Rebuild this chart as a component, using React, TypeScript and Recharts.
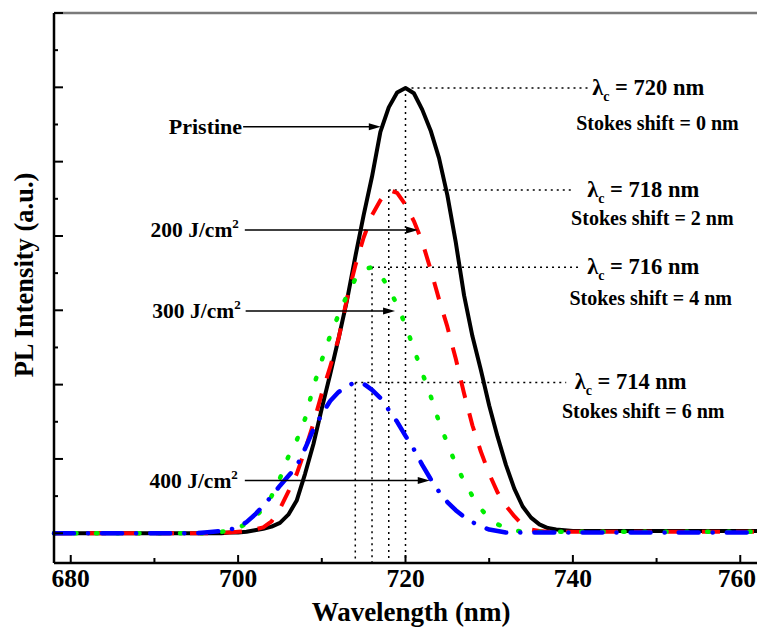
import React from 'react';
import { LineChart, Line, XAxis, YAxis, ReferenceLine, ReferenceDot } from 'recharts';

const FONT = "'Liberation Serif', 'Times New Roman', serif";

// Emission wavelength grid (nm)
const wavelengths = [
  678, 679, 680, 681, 682, 683, 684, 685, 686, 687,
  688, 689, 690, 691, 692, 693, 694, 695, 696, 697,
  698, 699, 700, 701, 702, 703, 704, 705, 706, 707,
  708, 709, 710, 711, 712, 713, 714, 715, 716, 717,
  718, 719, 720, 721, 722, 723, 724, 725, 726, 727,
  728, 729, 730, 731, 732, 733, 734, 735, 736, 737,
  738, 739, 740, 741, 742, 743, 744, 745, 746, 747,
  748, 749, 750, 751, 752, 753, 754, 755, 756, 757,
  758, 759, 760, 761, 762,
];

// PL intensity (a.u.) for each sample
const pristine = [
  0, 0, 0, 0, 0, 0, 0, 0, 0, 0,
  0, 0, 0, 0, 0, 0, 0, 0, 0, 0,
  0, 0.01, 0.01, 0.02, 0.04, 0.06, 0.09, 0.14, 0.25, 0.44,
  0.8, 1.2, 1.68, 2.14, 2.62, 3.13, 3.72, 4.28, 4.8, 5.4,
  5.73, 5.93, 5.99, 5.92, 5.7, 5.42, 5.05, 4.55, 3.92, 3.2,
  2.65, 2.2, 1.72, 1.3, 0.92, 0.6, 0.36, 0.21, 0.12, 0.07,
  0.05, 0.04, 0.03, 0.03, 0.03, 0.03, 0.03, 0.03, 0.03, 0.03,
  0.03, 0.03, 0.03, 0.03, 0.03, 0.03, 0.03, 0.03, 0.03, 0.03,
  0.03, 0.03, 0.03, 0.03, 0.03,
];

const fluence200 = [
  0, 0, 0, 0, 0, 0, 0, 0, 0, 0,
  0, 0, 0, 0, 0, 0, 0, 0, 0, 0,
  0.01, 0.01, 0.02, 0.03, 0.05, 0.08, 0.16, 0.33, 0.56, 0.8,
  1.12, 1.48, 1.88, 2.24, 2.62, 3.15, 3.6, 3.98, 4.28, 4.48,
  4.62, 4.58, 4.42, 4.2, 3.92, 3.55, 3.15, 2.78, 2.35, 1.88,
  1.45, 1.1, 0.8, 0.55, 0.37, 0.23, 0.11, 0.05, 0.03, 0.02,
  0.02, 0.02, 0.02, 0.02, 0.02, 0.02, 0.02, 0.02, 0.02, 0.02,
  0.02, 0.02, 0.02, 0.02, 0.02, 0.02, 0.02, 0.02, 0.02, 0.02,
  0.02, 0.02, 0.02, 0.02, 0.02,
];

const fluence300 = [
  0, 0, 0, 0, 0, 0, 0, 0, 0, 0,
  0, 0, 0, 0, 0, 0, 0, 0, 0, 0,
  0.02, 0.04, 0.07, 0.13, 0.22, 0.33, 0.5, 0.74, 1.03, 1.25,
  1.54, 1.97, 2.33, 2.66, 2.94, 3.2, 3.42, 3.55, 3.58, 3.48,
  3.3, 3.07, 2.8, 2.48, 2.16, 1.85, 1.5, 1.21, 0.93, 0.7,
  0.5, 0.33, 0.2, 0.12, 0.07, 0.04, 0.02, 0.02, 0.02, 0.02,
  0.02, 0.02, 0.02, 0.02, 0.02, 0.02, 0.02, 0.02, 0.02, 0.02,
  0.02, 0.02, 0.02, 0.02, 0.02, 0.02, 0.02, 0.02, 0.02, 0.02,
  0.02, 0.02, 0.02, 0.02, 0.02,
];

const fluence400 = [
  0, 0, 0, 0, 0, 0, 0, 0, 0, 0,
  0, 0, 0, 0, 0, 0, 0, 0, 0.01, 0.02,
  0.03, 0.05, 0.08, 0.15, 0.25, 0.37, 0.5, 0.64, 0.77, 0.9,
  1.14, 1.4, 1.6, 1.78, 1.9, 1.98, 2.03, 2.01, 1.93, 1.82,
  1.66, 1.5, 1.31, 1.13, 0.92, 0.73, 0.56, 0.42, 0.31, 0.22,
  0.15, 0.09, 0.05, 0.03, 0.01, 0.01, 0.01, 0.01, 0.01, 0.01,
  0.01, 0.01, 0.01, 0.01, 0.01, 0.01, 0.01, 0.01, 0.01, 0.01,
  0.01, 0.01, 0.01, 0.01, 0.01, 0.01, 0.01, 0.01, 0.01, 0.01,
  0.01, 0.01, 0.01, 0.01, 0.01,
];

const sampleNames = ['Pristine', '200', '300', '400'];
const peakWavelengths = [720, 718, 716, 714];
const stokesShifts = [0, 2, 4, 6];

const xTicks = [680, 690, 700, 710, 720, 730, 740, 750, 760];
const xTickLabels = ['680', '700', '720', '740', '760'];
const yTicks = [0, 0.5, 1, 1.5, 2, 2.5, 3, 3.5, 4, 4.5, 5, 5.5, 6, 6.5, 7];

const seriesList = [pristine, fluence200, fluence300, fluence400];
const seriesKeys = ['pristine', 'f200', 'f300', 'f400'];

const rows = wavelengths.map((wl, i) => ({
  wl,
  pristine: pristine[i],
  f200: fluence200[i],
  f300: fluence300[i],
  f400: fluence400[i],
}));

const peakValue = (k: number) => seriesList[k][wavelengths.indexOf(peakWavelengths[k])];

const CHART_W = 757;
const CHART_H = 632;

// Line styling per sample
const lineStyles = [
  { stroke: '#000000', width: 4, dash: undefined as string | undefined, cap: 'butt' },
  { stroke: '#ff0000', width: 4, dash: '18 16', cap: 'butt' },
  { stroke: '#00ee00', width: 4.5, dash: '1.5 19.5', cap: 'round' },
  { stroke: '#0000ff', width: 4.5, dash: '20 14 0.1 14', cap: 'round' },
];

// Annotation placement (data units)
const arrowLayout = [
  { y: 5.47, from: 700.6, to: 717.05, gap: 1 },
  { y: 4.08, from: 700.8, to: 721.5, gap: 6 },
  { y: 2.99, from: 700.9, to: 718.75, gap: 5 },
  { y: 0.71, from: 700.8, to: 722.9, gap: 7 },
];

const peakLabelLayout = [
  { lineEnd: 742.0, lambdaX: 749.0, stokesX: 750.1, stokesDy: 36 },
  { lineEnd: 740.0, lambdaX: 748.4, stokesX: 749.5, stokesDy: 29 },
  { lineEnd: 740.8, lambdaX: 748.4, stokesX: 749.3, stokesDy: 32 },
  { lineEnd: 739.2, lambdaX: 746.9, stokesX: 748.4, stokesDy: 30 },
];

const textStyle = { fontFamily: FONT, fontWeight: 700, fill: '#000' };

const SampleName = ({ x, y, name }: { x: number; y: number; name: string }) => {
  if (name === 'Pristine') {
    return (
      <text x={x} y={y} textAnchor="end" style={{ ...textStyle, fontSize: 22 }}>
        Pristine
      </text>
    );
  }
  return (
    <text x={x} y={y} textAnchor="end" style={{ ...textStyle, fontSize: 21.5 }}>
      {name} J/cm
      <tspan style={{ fontSize: 13 }} dy={-9}>2</tspan>
    </text>
  );
};

const makeArrow = (k: number) => (p: any) => {
  const { x1, y1, x2, y2 } = p;
  const head = 12;
  const half = 3.5;
  return (
    <g>
      <SampleName x={x1 - arrowLayout[k].gap} y={y1 + 7} name={sampleNames[k]} />
      <line x1={x1} y1={y1} x2={x2 - head + 1} y2={y2} stroke="#000" strokeWidth={1.5} />
      <polygon points={`${x2},${y2} ${x2 - head},${y2 - half} ${x2 - head},${y2 + half}`} fill="#000" />
    </g>
  );
};

const makeLambdaLabel = (k: number) => (p: any) => (
  <text x={p.cx} y={p.cy + 7} textAnchor="middle" style={{ ...textStyle, fontSize: 22.5 }}>
    λ
    <tspan style={{ fontSize: 14 }} dy={6}>c</tspan>
    <tspan dy={-6}>{` = ${peakWavelengths[k]} nm`}</tspan>
  </text>
);

const makeStokesLabel = (k: number) => (p: any) => (
  <text x={p.cx} y={p.cy + peakLabelLayout[k].stokesDy + 6} textAnchor="middle" style={{ ...textStyle, fontSize: 20 }}>
    {`Stokes shift = ${stokesShifts[k]} nm`}
  </text>
);

const TICK_FONT = 25.5;

const XTick = (p: any) => {
  const { x, y, payload } = p;
  const v = payload.value as number;
  const label = xTickLabels.find((t) => Number(t) === v);
  // keep the last label inside the canvas
  const half = label ? (label.length * TICK_FONT * 0.5) / 2 : 0;
  const tx = Math.min(x, CHART_W - half - 1);
  return (
    <g>
      <line x1={x} x2={x} y1={y} y2={y - (label ? 8 : 5)} stroke="#000" strokeWidth={2} />
      {label && (
        <text x={tx} y={y + 24} textAnchor="middle" style={{ ...textStyle, fontSize: TICK_FONT }}>
          {label}
        </text>
      )}
    </g>
  );
};

const YTick = (p: any) => {
  const { x, y, payload } = p;
  const major = Number.isInteger(payload.value);
  return <line x1={x} x2={x + (major ? 9 : 4)} y1={y} y2={y} stroke="#000" strokeWidth={2} />;
};

export default function App() {
  return (
    <div style={{ position: 'absolute', left: 0, top: 0, background: '#fff' }}>
      <LineChart width={CHART_W} height={CHART_H} data={rows} margin={{ top: 13, right: 0, bottom: 0, left: 0 }}>
        <XAxis
          dataKey="wl"
          type="number"
          domain={[678, 762]}
          ticks={xTicks}
          interval={0}
          height={69}
          tickSize={0}
          tickMargin={0}
          tickLine={false}
          tick={<XTick />}
          axisLine={{ stroke: '#000', strokeWidth: 2.5 }}
          label={{
            content: (lp: any) => {
              const vb = lp.viewBox;
              return (
                <text x={vb.x + vb.width / 2 + 5.5} y={vb.y + 58} textAnchor="middle" style={{ ...textStyle, fontSize: 27 }}>
                  Wavelength (nm)
                </text>
              );
            },
          }}
        />
        <YAxis
          type="number"
          domain={[-0.4, 7]}
          ticks={yTicks}
          interval={0}
          width={54}
          tickSize={0}
          tickMargin={0}
          tickLine={false}
          tick={<YTick />}
          axisLine={{ stroke: '#000', strokeWidth: 2.5 }}
          label={{
            content: (lp: any) => {
              const vb = lp.viewBox;
              return (
                <text
                  transform={`translate(${vb.x + 33},${vb.y + vb.height / 2 - 13}) rotate(-90)`}
                  textAnchor="middle"
                  style={{ ...textStyle, fontSize: 26.5 }}
                >
                  PL Intensity (a.u.)
                </text>
              );
            },
          }}
        />
        <ReferenceLine y={7} stroke="#7a7a7a" strokeWidth={2.5} />

        {peakWavelengths.map((wl, k) => (
          <ReferenceLine
            key={`v${k}`}
            segment={[
              { x: wl, y: peakValue(k) },
              { x: wl, y: -0.4 },
            ]}
            stroke="#000"
            strokeWidth={1.5}
            strokeDasharray="2 4"
          />
        ))}
        {peakWavelengths.map((wl, k) => (
          <ReferenceLine
            key={`h${k}`}
            segment={[
              { x: wl, y: peakValue(k) },
              { x: peakLabelLayout[k].lineEnd, y: peakValue(k) },
            ]}
            stroke="#000"
            strokeWidth={1.5}
            strokeDasharray="2 4"
          />
        ))}

        {seriesKeys.map((key, k) => (
          <Line
            key={key}
            dataKey={key}
            name={sampleNames[k]}
            type="linear"
            stroke={lineStyles[k].stroke}
            strokeWidth={lineStyles[k].width}
            strokeDasharray={lineStyles[k].dash}
            strokeLinecap={lineStyles[k].cap as any}
            strokeLinejoin="round"
            dot={false}
            activeDot={false}
            isAnimationActive={false}
          />
        ))}

        {arrowLayout.map((a, k) => (
          <ReferenceLine
            key={`a${k}`}
            segment={[
              { x: a.from, y: a.y },
              { x: a.to, y: a.y },
            ]}
            shape={makeArrow(k)}
          />
        ))}

        {peakWavelengths.map((wl, k) => (
          <ReferenceDot key={`l${k}`} x={peakLabelLayout[k].lambdaX} y={peakValue(k)} r={0} shape={makeLambdaLabel(k)} />
        ))}
        {peakWavelengths.map((wl, k) => (
          <ReferenceDot key={`s${k}`} x={peakLabelLayout[k].stokesX} y={peakValue(k)} r={0} shape={makeStokesLabel(k)} />
        ))}
      </LineChart>
    </div>
  );
}
